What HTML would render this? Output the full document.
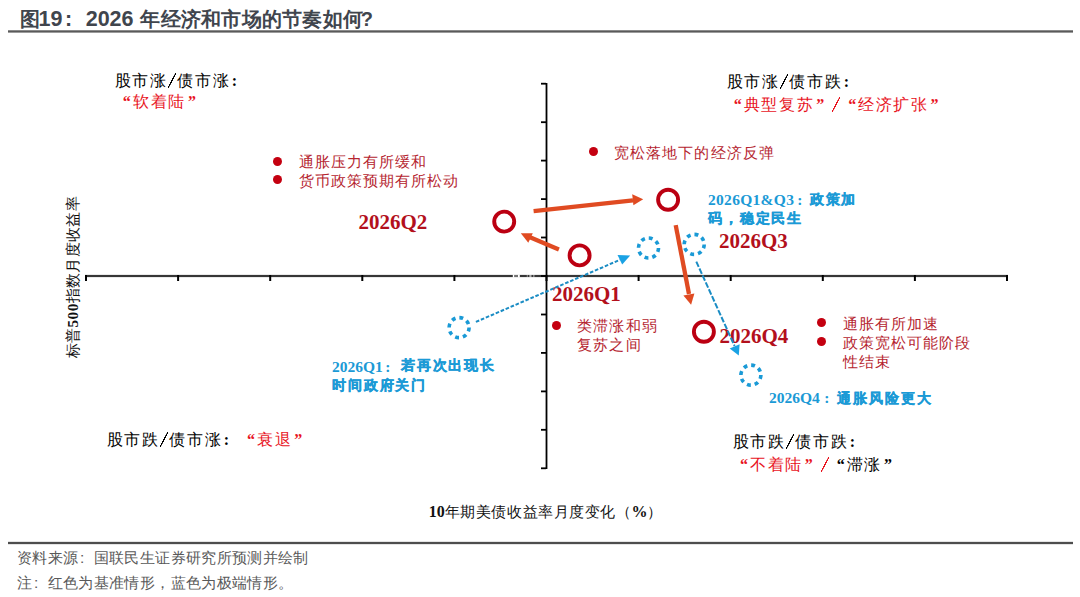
<!DOCTYPE html>
<html><head><meta charset="utf-8">
<style>
html,body{margin:0;padding:0;background:#fff;}
body{width:1080px;height:597px;position:relative;overflow:hidden;font-family:"Liberation Sans",sans-serif;}
.t{position:absolute;white-space:nowrap;line-height:1;}
.s{font-family:"Liberation Serif",serif;}
.blk{color:#000;font-size:16px;}
.red{color:#e8141e;}
.dr{color:#b5252f;font-size:15px;letter-spacing:1.1px;}
.bl{color:#1b9ad6;font-weight:bold;font-size:14px;letter-spacing:1.85px;-webkit-text-stroke:0.35px #1b9ad6;}
.bl .s{font-size:15.5px;letter-spacing:0;position:relative;-webkit-text-stroke:0;}
.lab{font-family:"Liberation Serif",serif;font-weight:bold;color:#b3101c;font-size:21px;}
.ls{letter-spacing:1.6px;}
.q{display:inline-block;width:12px;text-align:center;font-weight:bold;letter-spacing:0;}
.h{display:inline-block;width:10px;height:15px;vertical-align:-2px;background:linear-gradient(to bottom right,transparent calc(50% - 0.7px),currentColor calc(50% - 0.5px),currentColor calc(50% + 0.5px),transparent calc(50% + 0.7px));background-size:8px 15px;background-position:1px 0;background-repeat:no-repeat;}
.fs{display:inline-block;width:20px;height:15px;vertical-align:-2px;background:linear-gradient(to bottom right,transparent calc(50% - 0.7px),currentColor calc(50% - 0.5px),currentColor calc(50% + 0.5px),transparent calc(50% + 0.7px));background-size:8px 15px;background-position:6px 0;background-repeat:no-repeat;}
.c{display:inline-block;width:1em;text-align:left;padding-left:0.1em;box-sizing:border-box;font-weight:bold;letter-spacing:0;}
.dot{position:absolute;width:9px;height:9px;border-radius:50%;background:#c40010;}
</style></head><body>

<div class="t" id="title" style="left:19.6px;top:8.5px;font-size:20px;font-weight:bold;color:#40454d;">图<span style="font-size:21.5px;margin-left:-1px">19</span><span style="font-size:21.5px;margin-left:2.5px;margin-right:13.5px">:</span><span style="font-size:21.5px">2026 </span><span style="letter-spacing:0.27px;margin-left:0.8px">年经济和市场的节奏如何</span><span style="margin-left:-2.5px">?</span></div>

<svg width="1080" height="597" style="position:absolute;left:0;top:0">
  <rect x="8" y="30.3" width="1065" height="2.3" fill="#5a5a5a"/>
  <rect x="8" y="541.85" width="1065" height="2.3" fill="#4d4d4d"/>
  
  <!-- axes -->
  <g fill="#000">
    <rect x="85" y="274.9" width="923" height="2.2" fill="#363636"/>
    <rect x="545.6" y="83" width="1.8" height="386"/>
  </g>
  <g id="ticks" fill="#000"><rect x="85.0" y="275" width="2" height="6"/><rect x="177.1" y="275" width="2" height="6"/><rect x="269.2" y="275" width="2" height="6"/><rect x="361.3" y="275" width="2" height="6"/><rect x="453.4" y="275" width="2" height="6"/><rect x="545.5" y="275" width="2" height="6"/><rect x="637.6" y="275" width="2" height="6"/><rect x="729.7" y="275" width="2" height="6"/><rect x="821.8" y="275" width="2" height="6"/><rect x="913.9" y="275" width="2" height="6"/><rect x="1006.0" y="275" width="2" height="6"/><rect x="541" y="82.8" width="5" height="1.8"/><rect x="541" y="121.3" width="5" height="1.8"/><rect x="541" y="159.7" width="5" height="1.8"/><rect x="541" y="198.2" width="5" height="1.8"/><rect x="541" y="236.6" width="5" height="1.8"/><rect x="541" y="275.1" width="5" height="1.8"/><rect x="541" y="313.6" width="5" height="1.8"/><rect x="541" y="352.0" width="5" height="1.8"/><rect x="541" y="390.5" width="5" height="1.8"/><rect x="541" y="428.9" width="5" height="1.8"/><rect x="541" y="467.4" width="5" height="1.8"/></g>
  <g fill="#fff"><rect x="512.8" y="274.5" width="1.4" height="3"/><rect x="518" y="274.5" width="1.8" height="3"/><rect x="514.2" y="274.5" width="3.8" height="3" opacity="0.3"/><rect x="529.3" y="274.5" width="2.2" height="3" opacity="0.6"/><rect x="526.8" y="274.5" width="0.9" height="3" opacity="0.5"/><rect x="533" y="274.5" width="1.6" height="3" opacity="0.4"/></g>
  <!-- orange arrows -->
  <g fill="#e04b22" stroke="#e04b22">
    <line x1="533.6" y1="211.1" x2="633" y2="200.3" stroke-width="4.3"/>
    <polygon points="643.2,199.2 632.2,194.3 633.4,205.3" stroke="none"/>
    <line x1="558.9" y1="249.4" x2="530" y2="237.2" stroke-width="4.3"/>
    <polygon points="520.8,233.3 532.8,233.3 528.3,242.8" stroke="none"/>
    <line x1="675.7" y1="225.1" x2="689" y2="294" stroke-width="4.3"/>
    <polygon points="691.1,304.8 683.4,295.4 694.4,293.4" stroke="none"/>
  </g>
  
  <!-- red circles -->
  <g fill="none" stroke="#bb0012" stroke-width="3.9">
    <circle cx="504.2" cy="221.6" r="10"/>
    <circle cx="579.6" cy="255.4" r="10"/>
    <circle cx="668.1" cy="199.8" r="10"/>
    <circle cx="703.9" cy="331.8" r="10"/>
  </g>
  <!-- dotted blue circles -->
  <g fill="none" stroke="#1a9ad6" stroke-width="3.6" stroke-dasharray="3.9 3.95">
    <circle cx="459.1" cy="327.6" r="10"/>
    <circle cx="648.5" cy="248" r="10"/>
    <circle cx="694.2" cy="244.4" r="10"/>
    <circle cx="750.9" cy="375.1" r="10"/>
  </g>
</svg>

<!-- quadrant labels -->
<div class="t s blk ls" id="tl1" style="left:114.5px;top:73px;">股市涨<span class="h"></span>债市涨<span class="c">:</span></div>
<div class="t s red ls" id="tl2" style="left:120px;top:94.2px;font-size:16px;"><span class="q" style="width:13.3px">“</span>软着陆<span class="q">”</span></div>
<div class="t s blk ls" id="tr1" style="left:726.6px;top:74px;">股市涨<span class="h"></span>债市跌<span class="c">:</span></div>
<div class="t s red ls" id="tr2" style="left:731.8px;top:97px;font-size:16px;"><span class="q">“</span>典型复苏<span class="q">”</span><span class="fs"></span><span class="q">“</span>经济扩张<span class="q">”</span></div>
<div class="t s blk ls" id="bl1" style="left:106.5px;top:432px;">股市跌<span class="h"></span>债市涨<span class="c">:</span><span class="red" style="margin-left:6.9px"><span class="q">“</span>衰退<span class="q">”</span></span></div>
<div class="t s blk ls" id="br1" style="left:732.6px;top:434px;">股市跌<span class="h"></span>债市跌<span class="c">:</span></div>
<div class="t s blk ls" id="br2" style="left:738px;top:457px;"><span class="red"><span class="q">“</span>不着陆<span class="q">”</span><span class="fs"></span></span><span class="q">“</span>滞涨<span class="q">”</span></div>

<!-- bullets -->
<div class="dot" style="left:273.4px;top:156.5px"></div>
<div class="dot" style="left:273.4px;top:175.2px"></div>
<div class="t dr" id="b1" style="left:298.5px;top:151.6px;line-height:19px">通胀压力有所缓和<br>货币政策预期有所松动</div>
<div class="dot" style="left:588.7px;top:147px"></div>
<div class="t dr" id="b2" style="left:614px;top:145.2px;">宽松落地下的经济反弹</div>
<div class="dot" style="left:552.4px;top:320.9px"></div>
<div class="t dr" id="b3" style="left:577.3px;top:317.3px;line-height:18.8px">类滞涨和弱<br>复苏之间</div>
<div class="dot" style="left:817px;top:318.1px"></div>
<div class="dot" style="left:817px;top:337.1px"></div>
<div class="t dr" id="b4" style="left:842.5px;top:313.8px;line-height:19px">通胀有所加速<br>政策宽松可能阶段<br>性结束</div>

<!-- blue labels -->
<div class="t bl" id="q13" style="left:708px;top:188.75px;line-height:19.5px"><span class="s" style="top:1px;letter-spacing:0.3px">2026Q1&amp;Q3<span class="c" style="padding-left:3px">:</span></span>政策加<br>码，稳定民生</div>
<div class="t bl" id="q1b" style="left:332px;top:355.25px;line-height:19.5px"><span class="s" style="top:1.25px">2026Q1<span class="c" style="padding-left:2.5px;width:18px">:</span></span>若再次出现长<br>时间政府关门</div>
<div class="t bl" id="q4b" style="left:769px;top:389.75px;"><span class="s">2026Q4<span class="c" style="padding-left:4.5px;width:17.5px">:</span></span>通胀风险更大</div>

<!-- red quarter labels -->
<div class="t lab" id="lq2" style="left:358.5px;top:212px;">2026Q2</div>
<div class="t lab" id="lq1" style="left:552px;top:284px;">2026Q1</div>
<div class="t lab" id="lq3" style="left:719px;top:230.5px;">2026Q3</div>
<div class="t lab" id="lq4" style="left:719.5px;top:326px;">2026Q4</div>

<!-- axis labels -->
<div class="t s" id="ylab" style="left:73px;top:277px;font-size:15.4px;letter-spacing:0.35px;color:#111;transform:translate(-50%,-50%) rotate(-90deg);">标普<b>500</b>指数月度收益率</div>
<div class="t s" id="xlab" style="left:428.8px;top:503.5px;font-size:15px;letter-spacing:0.55px;color:#111;"><b style="font-size:16px;letter-spacing:0">10</b>年期美债收益率月度变化（<b style="font-size:16px;letter-spacing:0">%</b>）</div>

<!-- footer -->
<div class="t" id="f1" style="left:17px;top:549.5px;font-size:15.4px;letter-spacing:0.35px;color:#595959;">资料来源<span class="c" style="font-weight:normal">:</span>国联民生证券研究所预测并绘制</div>
<div class="t" id="f2" style="left:17px;top:575px;font-size:15.4px;letter-spacing:0.35px;color:#595959;">注<span class="c" style="font-weight:normal">:</span>红色为基准情形，蓝色为极端情形。</div>

<svg width="1080" height="597" style="position:absolute;left:0;top:0">
  <!-- blue dashed arrows -->
  <g stroke="#1a8cc4" fill="#1aa2e4">
    <line x1="475.9" y1="321.9" x2="620" y2="259.8" stroke-width="2" stroke-dasharray="3.6 1.8"/>
    <polygon points="630.2,255.4 617.5,254.9 622.2,264.6" stroke="none"/>
    <line x1="696.3" y1="261.6" x2="734.6" y2="346" stroke-width="2" stroke-dasharray="5.8 1.8"/>
    <polygon points="738.8,355.5 729.7,348.4 739.6,344.3" stroke="none"/>
  </g>
</svg>
</body></html>
